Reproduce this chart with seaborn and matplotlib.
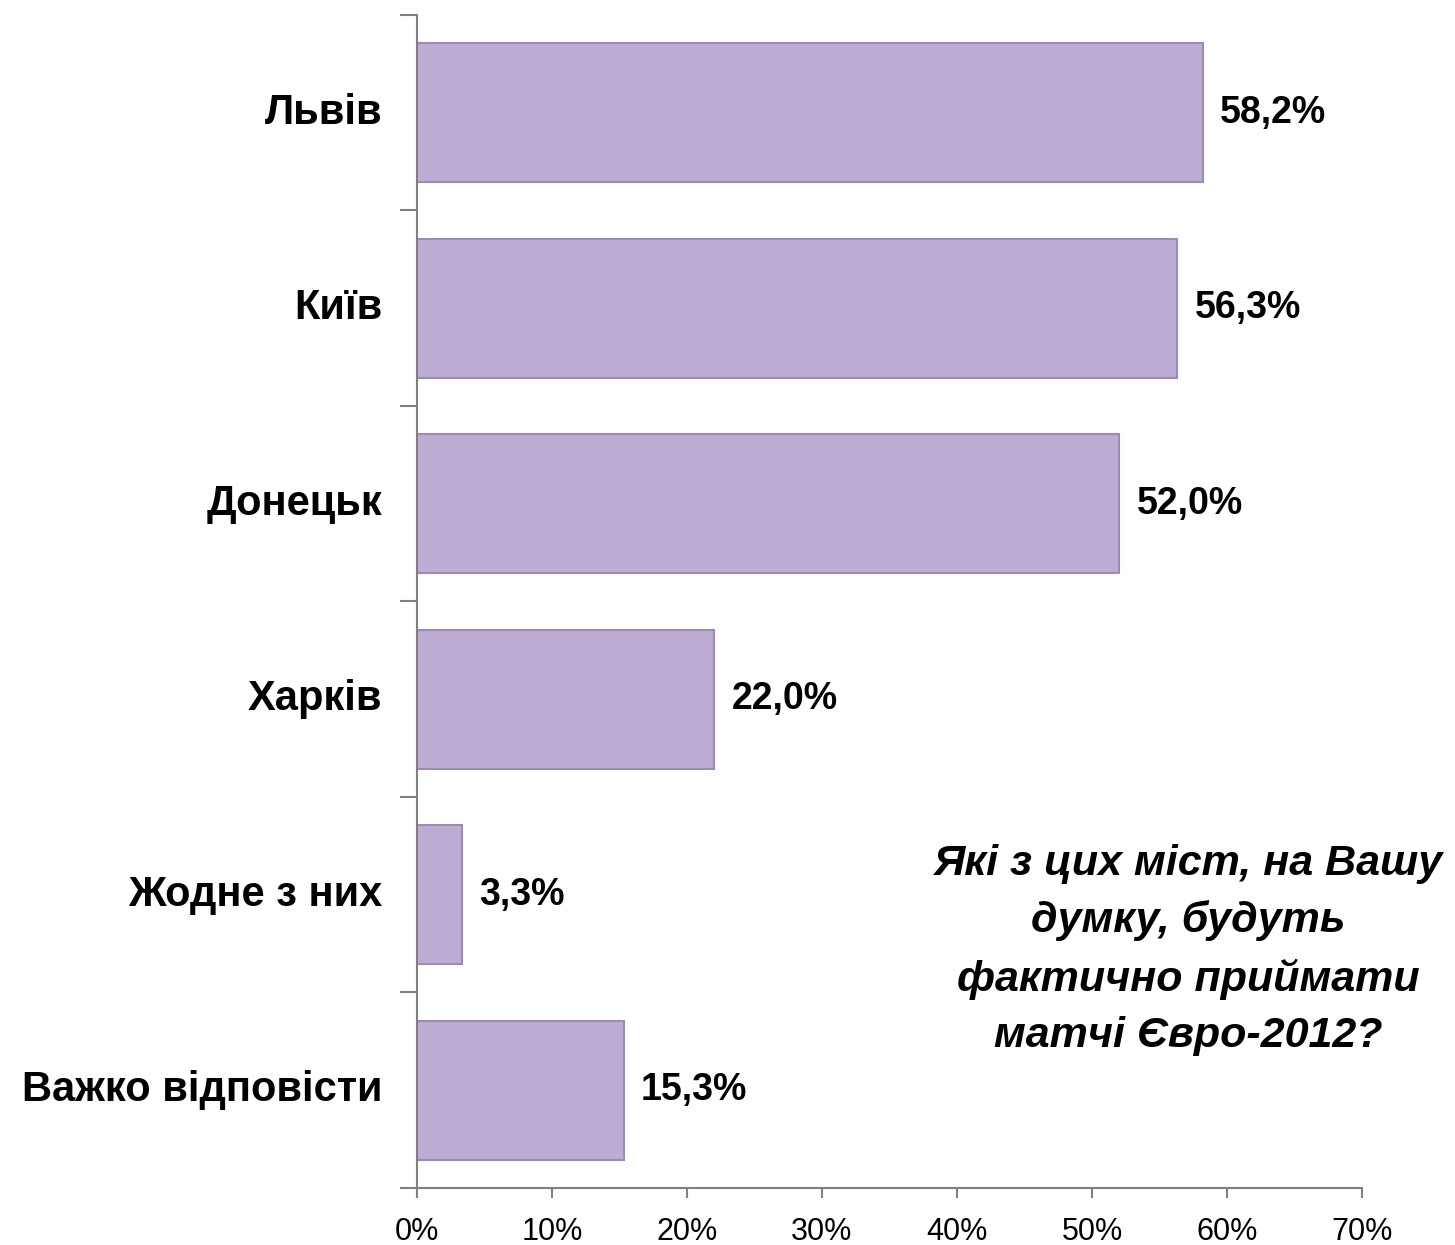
import matplotlib
matplotlib.use("Agg")
import matplotlib.pyplot as plt
import seaborn as sns
import pandas as pd
from matplotlib.ticker import FuncFormatter

categories = ["Львів", "Київ", "Донецьк", "Харків", "Жодне з них", "Важко відповісти"]
values = [58.2, 56.3, 52.0, 22.0, 3.3, 15.3]
value_labels = ["58,2%", "56,3%", "52,0%", "22,0%", "3,3%", "15,3%"]
question = "Які з цих міст, на Вашу\nдумку, будуть\nфактично приймати\nматчі Євро-2012?"

df = pd.DataFrame({"city": categories, "share": values})

sns.set_style("white")
plt.rcParams["font.family"] = ["Liberation Sans", "DejaVu Sans"]
plt.rcParams["text.color"] = "black"
plt.rcParams["xtick.labelcolor"] = "black"

fig = plt.figure(figsize=(14.55, 12.45), dpi=100)
ax = fig.add_axes([0.2866, 0.0458, 0.6495, 0.9422])

sns.barplot(data=df, x="share", y="city", orient="h", color="#BDACD3",
            saturation=1, width=0.71, edgecolor="#9C8CB2", linewidth=1.5, ax=ax)

ax.set_xlim(0, 70)
ax.set_ylim(5.5, -0.5)
ax.set_xticks(range(0, 71, 10))
ax.xaxis.set_major_formatter(FuncFormatter(lambda v, p: f"{int(v)}%"))
ax.set_yticks([i - 0.5 for i in range(len(categories) + 1)])
ax.set_yticklabels([])
ax.set_xlabel("")
ax.set_ylabel("")

# category names centred on each bar
for i, name in enumerate(categories):
    ax.text(-0.037, i, name, transform=ax.get_yaxis_transform(),
            ha="right", va="center", fontsize=30, fontweight="bold", color="black")

for i, (v, lab) in enumerate(zip(values, value_labels)):
    ax.text(v + 1.3, i, lab, ha="left", va="center",
            fontsize=27, fontweight="bold", color="black")

for side in ["top", "right"]:
    ax.spines[side].set_visible(False)
for side in ["left", "bottom"]:
    ax.spines[side].set_color("#808080")
    ax.spines[side].set_linewidth(1.5)

ax.tick_params(axis="y", direction="out", length=12, width=1.5, color="#808080", left=True)
ax.tick_params(axis="x", direction="out", length=7, width=1.5, color="#808080",
               bottom=True, labelsize=22, pad=14)

ax.text(0.816, 0.203, question, transform=ax.transAxes, ha="center", va="center",
        fontsize=31, fontweight="bold", fontstyle="italic", linespacing=1.53,
        color="black")

fig.savefig("out.png", dpi=100)
